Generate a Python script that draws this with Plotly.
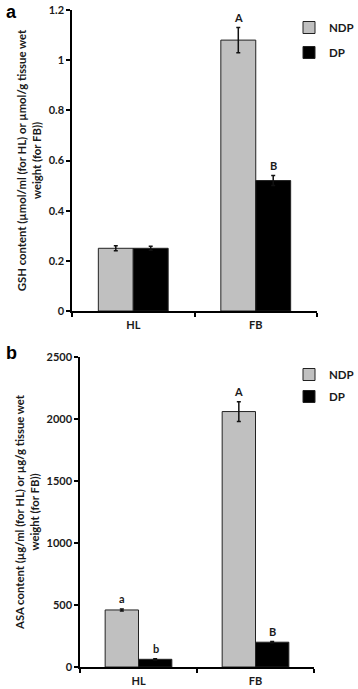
import plotly.graph_objects as go

categories = ["HL", "FB"]
series_names = ["NDP", "DP"]

gsh_ndp = [0.25, 1.08]
gsh_ndp_err = [0.01, 0.05]
gsh_dp = [0.25, 0.52]
gsh_dp_err = [0.008, 0.02]
gsh_letters_ndp = ["", "A"]
gsh_letters_dp = ["", "B"]

asa_ndp = [460, 2060]
asa_ndp_err = [8, 80]
asa_dp = [62, 200]
asa_dp_err = [5, 5]
asa_letters_ndp = ["a", "A"]
asa_letters_dp = ["b", "B"]

gsh_ticks = [0, 0.2, 0.4, 0.6, 0.8, 1, 1.2]
asa_ticks = [0, 500, 1000, 1500, 2000, 2500]

W, H = 358, 689
FONT = "Lato"
DARK = "#1a1a1a"
NDP_COLOR = "#c0c0c0"
DP_COLOR = "#000000"

fig = go.Figure()


def add_bars(xa, ya, ndp, ndp_err, dp, dp_err, legend, show):
    fig.add_trace(go.Bar(
        x=categories, y=ndp, name=series_names[0], xaxis=xa, yaxis=ya,
        marker=dict(color=NDP_COLOR, line=dict(color="#222222", width=1)),
        error_y=dict(type="data", array=ndp_err, color="#111111", thickness=1.5, width=2),
        legend=legend, legendgroup=legend + "ndp", showlegend=show,
    ))
    fig.add_trace(go.Bar(
        x=categories, y=dp, name=series_names[1], xaxis=xa, yaxis=ya,
        marker=dict(color=DP_COLOR, line=dict(color="#222222", width=1)),
        error_y=dict(type="data", array=dp_err, color="#111111", thickness=1.5, width=2),
        legend=legend, legendgroup=legend + "dp", showlegend=show,
    ))


add_bars("x", "y", gsh_ndp, gsh_ndp_err, gsh_dp, gsh_dp_err, "legend", True)
add_bars("x2", "y2", asa_ndp, asa_ndp_err, asa_dp, asa_dp_err, "legend2", True)

annotations = []


def add_letters(xref, yref, vals, errs, letters, shift):
    for c, v, e, t in zip(categories, vals, errs, letters):
        if t:
            annotations.append(dict(
                x=c, y=v + e, xref=xref, yref=yref, text=t, showarrow=False,
                xshift=shift, yshift=2, yanchor="bottom",
                font=dict(family=FONT, size=11, color=DARK, weight="bold"),
            ))


add_letters("x", "y", gsh_ndp, gsh_ndp_err, gsh_letters_ndp, -17.5)
add_letters("x", "y", gsh_dp, gsh_dp_err, gsh_letters_dp, 17.5)
add_letters("x2", "y2", asa_ndp, asa_ndp_err, asa_letters_ndp, -17)
add_letters("x2", "y2", asa_dp, asa_dp_err, asa_letters_dp, 17)

# panel labels
annotations.append(dict(x=0.012, y=1.0, xref="paper", yref="paper", text="a", showarrow=False,
                        xanchor="left", yanchor="top",
                        font=dict(family="Liberation Sans", size=18, color="#000", weight="bold")))
annotations.append(dict(x=0.012, y=1 - 341 / H, xref="paper", yref="paper", text="b", showarrow=False,
                        xanchor="left", yanchor="top",
                        font=dict(family="Liberation Sans", size=18, color="#000", weight="bold")))

tickfont = dict(family=FONT, size=11, color=DARK, weight="bold")
titlefont = dict(family=FONT, size=11.3, color=DARK, weight="bold")

xaxis_common = dict(
    showline=True, linecolor="#000", linewidth=1.5, ticks="outside", ticklen=4,
    tickcolor="#000", tickwidth=1.5, tickson="boundaries", tickfont=tickfont,
    ticklabelstandoff=3, showgrid=False, zeroline=False, fixedrange=True,
)
yaxis_common = dict(
    showline=True, linecolor="#000", linewidth=1.5, ticks="outside", ticklen=4,
    tickcolor="#000", tickwidth=1.5, tickfont=tickfont, showgrid=False,
    zeroline=False, fixedrange=True,
)

fig.update_layout(
    width=W, height=H,
    margin=dict(l=0, r=0, t=0, b=0, autoexpand=False),
    paper_bgcolor="white", plot_bgcolor="white",
    barmode="group", bargap=0.43, bargroupgap=0,
    showlegend=True,
    xaxis=dict(domain=[72 / W, 317 / W], anchor="y", **xaxis_common),
    yaxis=dict(domain=[1 - 311 / H, 1 - 10 / H], anchor="x", range=[0, 1.2],
               tickvals=gsh_ticks, ticktext=[f"{t:g}" for t in gsh_ticks],
               title=dict(text="GSH content (µmol/ml (for HL) or µmol/g tissue wet<br>weight (for FB))",
                          font=titlefont, standoff=5),
               **yaxis_common),
    xaxis2=dict(domain=[80 / W, 314 / W], anchor="y2", **xaxis_common),
    yaxis2=dict(domain=[1 - 667 / H, 1 - 357 / H], anchor="x2", range=[0, 2500],
                tickvals=asa_ticks, ticktext=[str(t) for t in asa_ticks],
                title=dict(text="ASA content (µg/ml (for HL) or µg/g tissue wet<br>weight (for FB))",
                           font=titlefont, standoff=5),
                **yaxis_common),
    legend=dict(x=289 / W, y=1 - 13 / H, xanchor="left", yanchor="top",
                font=dict(family=FONT, size=11.5, color=DARK, weight="bold"),
                traceorder="grouped", tracegroupgap=6, bgcolor="rgba(0,0,0,0)"),
    legend2=dict(x=289 / W, y=1 - 360 / H, xanchor="left", yanchor="top",
                 font=dict(family=FONT, size=11.5, color=DARK, weight="bold"),
                 traceorder="grouped", tracegroupgap=3, bgcolor="rgba(0,0,0,0)"),
    annotations=annotations,
)

fig.write_html(
    "out.html",
    config={"displayModeBar": False},
    post_script="document.body.style.margin='0';document.documentElement.style.overflow='hidden';document.body.style.overflow='hidden';",
)
